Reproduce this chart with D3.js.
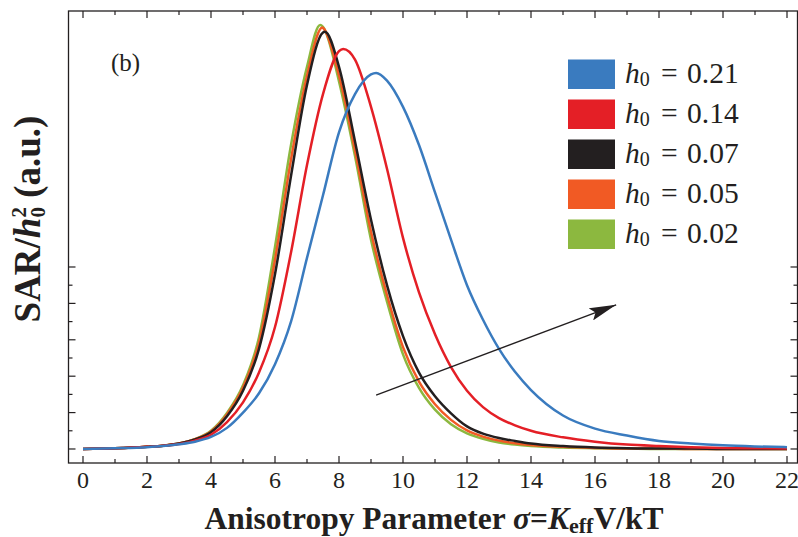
<!DOCTYPE html>
<html>
<head>
<meta charset="utf-8">
<script src="https://cdn.jsdelivr.net/npm/d3@7"></script>
<style>
  html, body { margin: 0; padding: 0; background: #fff; }
  svg { display: block; }
  text { font-family: "Liberation Serif", "Times New Roman", serif; fill: #231f20; }
</style>
</head>
<body>
<svg id="chart" width="798" height="537"></svg>
<script>
// Anisotropy parameter grid (sigma = K_eff V / kT)
const sigma = [0, 1, 2, 2.5, 3, 3.5, 4, 4.5, 5, 5.5, 6, 6.5, 7, 7.5, 8, 8.5, 9, 9.5, 10, 10.5, 11, 11.5, 12, 12.5, 13, 13.5, 14, 15, 16, 17, 18, 19, 20, 21, 22];

// SAR / h0^2 (arbitrary units) for each field amplitude
const sarH021 = [0, 0.02, 0.05, 0.08, 0.13, 0.2, 0.33, 0.58, 1.0, 1.53, 2.33, 3.5, 5.25, 6.97, 8.7, 9.75, 10.29, 10.12, 9.4, 8.35, 7.05, 5.75, 4.5, 3.55, 2.75, 2.12, 1.62, 0.92, 0.56, 0.37, 0.22, 0.15, 0.1, 0.07, 0.05];
const sarH014 = [0, 0.02, 0.06, 0.09, 0.14, 0.23, 0.39, 0.74, 1.28, 2.1, 3.35, 5.4, 7.8, 9.75, 10.93, 10.7, 9.4, 7.7, 5.8, 4.3, 3.15, 2.25, 1.6, 1.15, 0.85, 0.65, 0.5, 0.32, 0.2, 0.12, 0.08, 0.05, 0.03, 0.02, 0.01];
const sarH007 = [0, 0.02, 0.06, 0.09, 0.15, 0.26, 0.46, 0.9, 1.6, 2.75, 4.8, 7.5, 10.0, 11.44, 10.5, 8.45, 6.3, 4.5, 3.1, 2.1, 1.45, 0.98, 0.62, 0.42, 0.3, 0.22, 0.15, 0.08, 0.04, 0.02, 0.01, 0.01, 0, 0, 0];
const sarH005 = [0, 0.02, 0.06, 0.09, 0.15, 0.27, 0.48, 0.95, 1.68, 2.92, 5.2, 7.95, 10.25, 11.57, 10.26, 8.21, 5.97, 4.23, 2.8, 1.85, 1.23, 0.8, 0.51, 0.34, 0.23, 0.16, 0.11, 0.06, 0.03, 0.01, 0.01, 0, 0, 0, 0];
const sarH002 = [0, 0.02, 0.06, 0.09, 0.15, 0.27, 0.5, 0.99, 1.75, 3.07, 5.55, 8.35, 10.5, 11.6, 10.1, 8.05, 5.75, 4.05, 2.6, 1.68, 1.08, 0.68, 0.43, 0.28, 0.18, 0.12, 0.08, 0.04, 0.02, 0.01, 0, 0, 0, 0, 0];

// maximum of each curve (position, height)
const peakSigma = [9.16, 8.13, 7.56, 7.48, 7.41];
const peakSar = [10.33, 10.99, 11.46, 11.58, 11.65];

const fieldLabels = ["0.21", "0.14", "0.07", "0.05", "0.02"];
const fieldColors = ["#3a7bbf", "#e41f26", "#231f20", "#f15a24", "#8cb83f"];
const fieldValues = [sarH021, sarH014, sarH007, sarH005, sarH002];

const xTickValues = [0, 2, 4, 6, 8, 10, 12, 14, 16, 18, 20, 22];
const xMinorValues = [1, 3, 5, 7, 9, 11, 13, 15, 17, 19, 21];
const yTickValues = [0, 1, 2, 3, 4, 5];
const yMinorValues = [0.5, 1.5, 2.5, 3.5, 4.5];

// Trend arrow (start, tip) in data coordinates
const arrowFrom = [9.16, 1.48];
const arrowTo = [16.66, 3.96];

const svg = d3.select("#chart");
const frame = { left: 68.5, right: 797.5, top: 11, bottom: 463 };

const x = d3.scaleLinear().domain([-0.453, 22.328]).range([frame.left, frame.right]);
const y = d3.scaleLinear().domain([-0.385, 12.033]).range([frame.bottom, frame.top]);

const ink = "#231f20";

// frame
svg.append("rect")
  .attr("x", frame.left).attr("y", frame.top)
  .attr("width", frame.right - frame.left).attr("height", frame.bottom - frame.top)
  .attr("fill", "none").attr("stroke", ink).attr("stroke-width", 1.3);

// inward tick marks on all four sides
function xticks(group, values, len) {
  values.forEach(v => {
    const px = x(v);
    group.append("line").attr("x1", px).attr("x2", px).attr("y1", frame.bottom).attr("y2", frame.bottom - len);
    group.append("line").attr("x1", px).attr("x2", px).attr("y1", frame.top).attr("y2", frame.top + len);
  });
}
function yticks(group, values, len) {
  values.forEach(v => {
    const py = y(v);
    group.append("line").attr("y1", py).attr("y2", py).attr("x1", frame.left).attr("x2", frame.left + len);
    group.append("line").attr("y1", py).attr("y2", py).attr("x1", frame.right).attr("x2", frame.right - len);
  });
}
const tickG = svg.append("g").attr("stroke", ink).attr("stroke-width", 1.2);
xticks(tickG, xTickValues, 7);
xticks(tickG, xMinorValues, 4);
yticks(tickG, yTickValues, 7);
yticks(tickG, yMinorValues, 4);

// x tick labels
svg.append("g").selectAll("text").data(xTickValues).join("text")
  .attr("x", d => x(d)).attr("y", 488)
  .attr("text-anchor", "middle")
  .attr("font-size", 24)
  .text(d => d);

// curves (smallest amplitude underneath)
const line = d3.line()
  .x(d => x(d[0]))
  .y(d => y(d[1]))
  .curve(d3.curveMonotoneX);

function seriesPoints(k) {
  const pts = sigma.map((s, i) => [s, fieldValues[k][i]]);
  pts.push([peakSigma[k], peakSar[k]]);
  return pts.sort((a, b) => a[0] - b[0]);
}

const order = [4, 3, 2, 1, 0];
svg.append("g").selectAll("path").data(order).join("path")
  .attr("d", k => line(seriesPoints(k)))
  .attr("fill", "none")
  .attr("stroke", k => fieldColors[k])
  .attr("stroke-width", 2.5)
  .attr("stroke-linejoin", "round");

// trend arrow
svg.append("defs").append("marker")
  .attr("id", "head").attr("viewBox", "0 0 27 13")
  .attr("refX", 27).attr("refY", 6.5)
  .attr("markerWidth", 27).attr("markerHeight", 13)
  .attr("markerUnits", "userSpaceOnUse")
  .attr("orient", "auto")
  .append("path").attr("d", "M0,0 L27,6.5 L0,13 L5,6.5 Z").attr("fill", ink);

svg.append("line")
  .attr("x1", x(arrowFrom[0])).attr("y1", y(arrowFrom[1]))
  .attr("x2", x(arrowTo[0])).attr("y2", y(arrowTo[1]))
  .attr("stroke", ink).attr("stroke-width", 1.4)
  .attr("marker-end", "url(#head)");

// panel label
svg.append("text").attr("x", 111).attr("y", 71).attr("font-size", 25).text("(b)");

// legend
const legend = svg.append("g");
fieldLabels.forEach((lab, i) => {
  const top = 59.5 + i * 40;
  const base = top + 23.3;
  legend.append("rect").attr("x", 568).attr("y", top).attr("width", 47).attr("height", 29.5)
    .attr("fill", fieldColors[i]);
  const t = legend.append("text").attr("x", 625).attr("y", base).attr("font-size", 29.5);
  t.append("tspan").attr("font-style", "italic").text("h");
  t.append("tspan").attr("font-size", 20).attr("dy", 3).text("0");
  legend.append("text").attr("x", 661).attr("y", base).attr("font-size", 29.5).text("=");
  legend.append("text").attr("x", 687).attr("y", base).attr("font-size", 29.5).text(lab);
});

// x axis title
const xt = svg.append("text")
  .attr("x", 434).attr("y", 529).attr("text-anchor", "middle")
  .attr("font-size", 31.5).attr("font-weight", "bold");
xt.append("tspan").text("Anisotropy Parameter ");
xt.append("tspan").attr("font-style", "italic").text("σ");
xt.append("tspan").text("=");
xt.append("tspan").attr("font-style", "italic").text("K");
xt.append("tspan").attr("font-size", 22).attr("dy", 4).text("eff");
xt.append("tspan").attr("dy", -4).text("V/kT");

// y axis title: h with stacked subscript 0 and superscript 2
const yt = svg.append("text")
  .attr("transform", "translate(40,219) rotate(-90)")
  .attr("text-anchor", "middle")
  .attr("font-size", 37).attr("font-weight", "bold");
yt.append("tspan").text("SAR/");
yt.append("tspan").attr("font-style", "italic").text("h");
yt.append("tspan").attr("font-size", 21).attr("dy", -14).text("2");
yt.append("tspan").attr("font-size", 21).attr("dx", -10.5).attr("dy", 19).text("0");
yt.append("tspan").attr("dy", -5).text(" (a.u.)");
</script>
</body>
</html>
